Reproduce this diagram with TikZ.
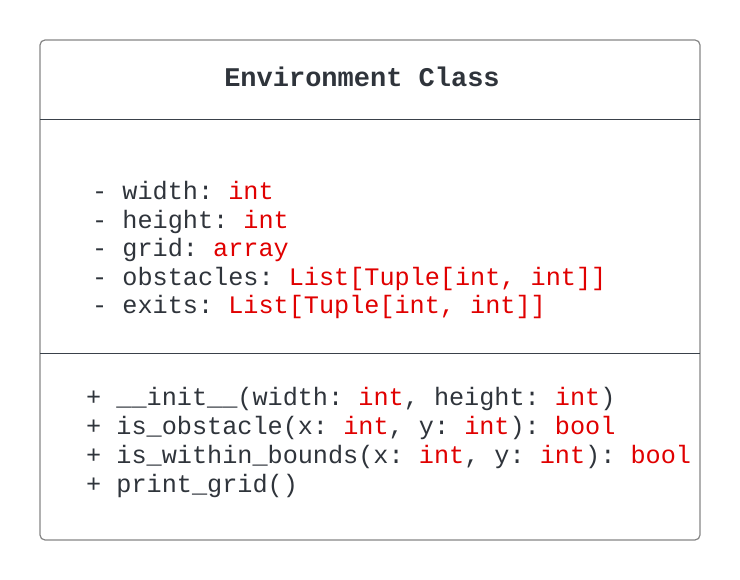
\documentclass[tikz,border=0pt]{standalone}
\usepackage{fontspec}
\setmonofont{Liberation Mono}
\usepackage{xcolor}
\usetikzlibrary{positioning}

\definecolor{textdark}{HTML}{2F343B}
\definecolor{typered}{HTML}{E00000}
\definecolor{frame}{HTML}{858585}
\definecolor{rule}{HTML}{3A414A}

\newcommand{\tp}[1]{\textcolor{typered}{#1}}

\begin{document}
\begin{tikzpicture}[
    x=1pt, y=-1pt,
    classbox/.style={draw=frame, line width=1.2pt, rounded corners=5pt},
    divider/.style={draw=rule, line width=1pt},
    title/.style={font=\ttfamily\bfseries\fontsize{27}{31}\selectfont, text=textdark, inner sep=0pt, anchor=base},
    member/.style={font=\ttfamily\fontsize{25.2}{29}\selectfont, text=textdark, inner sep=0pt, anchor=base west}
]
\useasboundingbox (0,0) rectangle (740,580);

% Class frame
\draw[classbox] (40,40) rectangle (700,540);
\draw[divider] (40,120) -- (700,120);
\draw[divider] (40,354) -- (700,354);

% Title
\node[title] (name) at (362,86.5) {Environment Class};

% Attributes
\node[member] (width) at (92,200) {- width: \tp{int}};
\node[member] (height) at (92,228.5) {- height: \tp{int}};
\node[member] (grid) at (92,257) {- grid: \tp{array}};
\node[member] (obstacles) at (92,285.5) {- obstacles: \tp{List[Tuple[int, int]]}};
\node[member] (exits) at (92,314) {- exits: \tp{List[Tuple[int, int]]}};

% Methods
\node[member] (init) at (86,406) {+ \_\_init\_\_(width: \tp{int}, height: \tp{int})};
\node[member] (isobstacle) at (86,434.7) {+ is\_obstacle(x: \tp{int}, y: \tp{int}): \tp{bool}};
\node[member] (inbounds) at (86,463.4) {+ is\_within\_bounds(x: \tp{int}, y: \tp{int}): \tp{bool}};
\node[member] (printgrid) at (86,492) {+ print\_grid()};

\end{tikzpicture}
\end{document}
